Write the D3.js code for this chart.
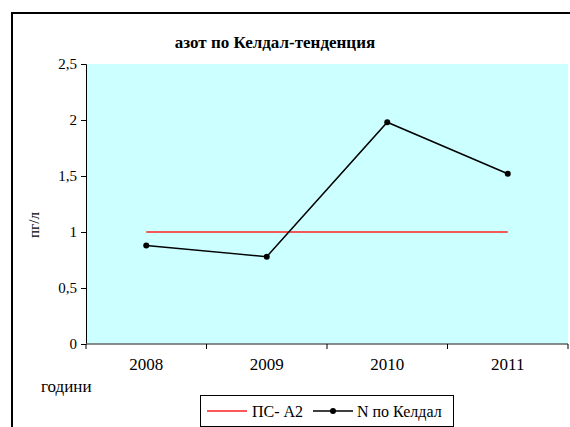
<!DOCTYPE html>
<html><head><meta charset="utf-8">
<script src="https://cdn.jsdelivr.net/npm/d3@7"></script>
</head><body style="margin:0;background:#fff">
<script>
const categories = ["2008","2009","2010","2011"];
const standardValues = [1, 1, 1, 1];
const nValues = [0.88, 0.78, 1.98, 1.52];
const yTicks = [0, 0.5, 1, 1.5, 2, 2.5];
const yTickLabels = ["0","0,5","1","1,5","2","2,5"];
const seriesNames = ["ПС- А2", "N по Келдал"];

const FONT = '"Liberation Serif"';
const W = 570, H = 427;
const svg = d3.select("body").append("svg").attr("width", W).attr("height", H).style("display", "block");

// outer frame
svg.append("rect").attr("x", 12).attr("y", 13).attr("width", 600).attr("height", 500)
  .attr("fill", "#fff").attr("stroke", "#000").attr("stroke-width", 2);

const L = 86, R = 568, T = 64, B = 344;
const x = d3.scaleBand().domain(categories).range([L, R]);
const y = d3.scaleLinear().domain([0, 2.5]).range([B, T]);

svg.append("rect").attr("x", L).attr("y", T).attr("width", R - L).attr("height", B - T).attr("fill", "#ccffff");

// title
svg.append("text").attr("x", 275).attr("y", 48).attr("text-anchor", "middle")
  .style("font-family", FONT).style("font-weight", "bold").style("font-size", "17px")
  .text("азот по Келдал-тенденция");

// y axis
const yAxis = svg.append("g").attr("transform", `translate(${L},0)`)
  .call(d3.axisLeft(y).tickValues(yTicks).tickSize(5).tickPadding(4)
    .tickFormat((d, i) => yTickLabels[i]));
yAxis.select(".domain").attr("stroke", "#000");
yAxis.selectAll("text").style("font-family", FONT).style("font-size", "15px").attr("fill", "#000");

// x axis
const xAxis = svg.append("g").attr("transform", `translate(0,${B})`)
  .call(d3.axisBottom(x).tickSize(0).tickPadding(14));
xAxis.select(".domain").remove();
xAxis.selectAll("text").style("font-family", FONT).style("font-size", "17px").attr("fill", "#000");
svg.append("line").attr("x1", L).attr("x2", R).attr("y1", B).attr("y2", B).attr("stroke", "#666").attr("stroke-width", 1.5);
const bounds = categories.map(c => x(c)).concat([x(categories[categories.length-1]) + x.bandwidth()]);
svg.selectAll(".xt").data(bounds).enter().append("line")
  .attr("x1", d => d).attr("x2", d => d).attr("y1", B).attr("y2", B + 5).attr("stroke", "#000");

// y title
svg.append("text").attr("transform", "translate(39,225) rotate(-90)").attr("text-anchor", "middle")
  .style("font-family", FONT).style("font-size", "15px").text("пг/л");
// x title
svg.append("text").attr("x", 41).attr("y", 392)
  .style("font-family", FONT).style("font-size", "17px").text("години");

const cx = d => x(d) + x.bandwidth() / 2;
const line = d3.line().x((d, i) => cx(categories[i])).y(d => y(d));

svg.append("path").datum(standardValues).attr("d", line).attr("fill", "none")
  .attr("stroke", "#ff2020").attr("stroke-width", 1.5);
svg.append("path").datum(nValues).attr("d", line).attr("fill", "none")
  .attr("stroke", "#000").attr("stroke-width", 1.5);
svg.selectAll(".pt").data(nValues).enter().append("circle")
  .attr("cx", (d, i) => cx(categories[i])).attr("cy", d => y(d)).attr("r", 3).attr("fill", "#000");

// legend
const lg = svg.append("g");
lg.append("rect").attr("x", 200.5).attr("y", 395.5).attr("width", 253).attr("height", 31)
  .attr("fill", "#fff").attr("stroke", "#000").attr("stroke-width", 1);
lg.append("line").attr("x1", 207).attr("x2", 247).attr("y1", 411).attr("y2", 411).attr("stroke", "#ff2020").attr("stroke-width", 1.5);
lg.append("text").attr("x", 252).attr("y", 416.5).style("font-family", FONT).style("font-size", "16px").text(seriesNames[0]);
lg.append("line").attr("x1", 313).attr("x2", 353).attr("y1", 411).attr("y2", 411).attr("stroke", "#000").attr("stroke-width", 1.5);
lg.append("circle").attr("cx", 333).attr("cy", 411).attr("r", 3).attr("fill", "#000");
lg.append("text").attr("x", 357).attr("y", 416.5).style("font-family", FONT).style("font-size", "16px").text(seriesNames[1]);
</script>
</body></html>
